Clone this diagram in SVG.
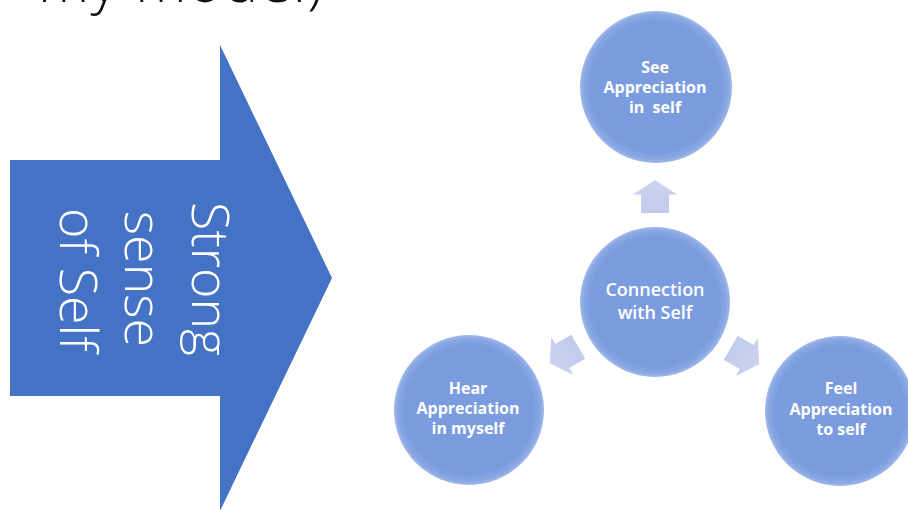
<svg xmlns="http://www.w3.org/2000/svg" width="908" height="510" viewBox="0 0 908 510">
  <defs>
    <radialGradient id="ballFill" cx="50%" cy="50%" r="50%">
      <stop offset="0" stop-color="#7B9DDF"/>
      <stop offset="0.86" stop-color="#7A9CDE"/>
      <stop offset="0.95" stop-color="#88A7E3"/>
      <stop offset="1" stop-color="#A3B9EA"/>
    </radialGradient>
    <linearGradient id="arrowFill" x1="0" y1="0" x2="0" y2="1">
      <stop offset="0" stop-color="#CBD3EF"/>
      <stop offset="1" stop-color="#C2CBEB"/>
    </linearGradient>
    <!-- small block arrow, pointing up, centred on the origin -->
    <path id="spoke" d="M0,-16.5 L22,-2 L14,-2 L14,16.5 L-14,16.5 L-14,-2 L-22,-2 Z"/>
  </defs>
  <style>
    .ball { fill: url(#ballFill); }
    .label { font-family: "Open Sans", "Liberation Sans", sans-serif; font-weight: 700; font-size: 16px; fill: #FFFFFF; text-anchor: middle; }
    .hub { font-family: "Open Sans", "Liberation Sans", sans-serif; font-weight: 600; font-size: 18px; fill: #FFFFFF; text-anchor: middle; }
    .big { font-family: "Open Sans", "Liberation Sans", sans-serif; font-weight: 350; font-size: 52px; fill: #FFFFFF; text-anchor: middle; }
    .spoke { fill: url(#arrowFill); }
  </style>

  <rect width="908" height="510" fill="#FFFFFF"/>

  <!-- heading, running off the top edge -->
  <text x="38" y="2" font-family="Open Sans, Liberation Sans, sans-serif" font-weight="300" font-size="58" fill="#111111" textLength="285">my model)</text>

  <!-- large right-pointing block arrow -->
  <g id="sense-of-self">
    <polygon points="10,160 220,160 220,45 332,278 220,511 220,396 10,396" fill="#4472C4"/>
    <text class="big" transform="translate(192,279) rotate(90)">Strong</text>
    <text class="big" transform="translate(125,279) rotate(90)">sense</text>
    <text class="big" transform="translate(60,280) rotate(90)">of Self</text>
  </g>

  <!-- connectors between the hub and the outer circles -->
  <g id="connectors">
    <use href="#spoke" class="spoke" transform="translate(655,196.5)"/>
    <use href="#spoke" class="spoke" transform="translate(564,355) rotate(-120)"/>
    <use href="#spoke" class="spoke" transform="translate(745,356) rotate(120)"/>
  </g>

  <g id="hub">
    <circle class="ball" cx="655" cy="302" r="75"/>
    <text class="hub" x="655" y="296">Connection</text>
    <text class="hub" x="655" y="319">with Self</text>
  </g>

  <g id="see">
    <circle class="ball" cx="656" cy="87" r="76"/>
    <text class="label" x="655" y="73">See</text>
    <text class="label" x="655" y="93">Appreciation</text>
    <text class="label" x="655" y="113" xml:space="preserve">in  self</text>
  </g>

  <g id="hear">
    <circle class="ball" cx="469" cy="410" r="75"/>
    <text class="label" x="468" y="394">Hear</text>
    <text class="label" x="468" y="414">Appreciation</text>
    <text class="label" x="468" y="434">in myself</text>
  </g>

  <g id="feel">
    <circle class="ball" cx="840" cy="411" r="75"/>
    <text class="label" x="841" y="394">Feel</text>
    <text class="label" x="841" y="415">Appreciation</text>
    <text class="label" x="841" y="435">to self</text>
  </g>
</svg>
